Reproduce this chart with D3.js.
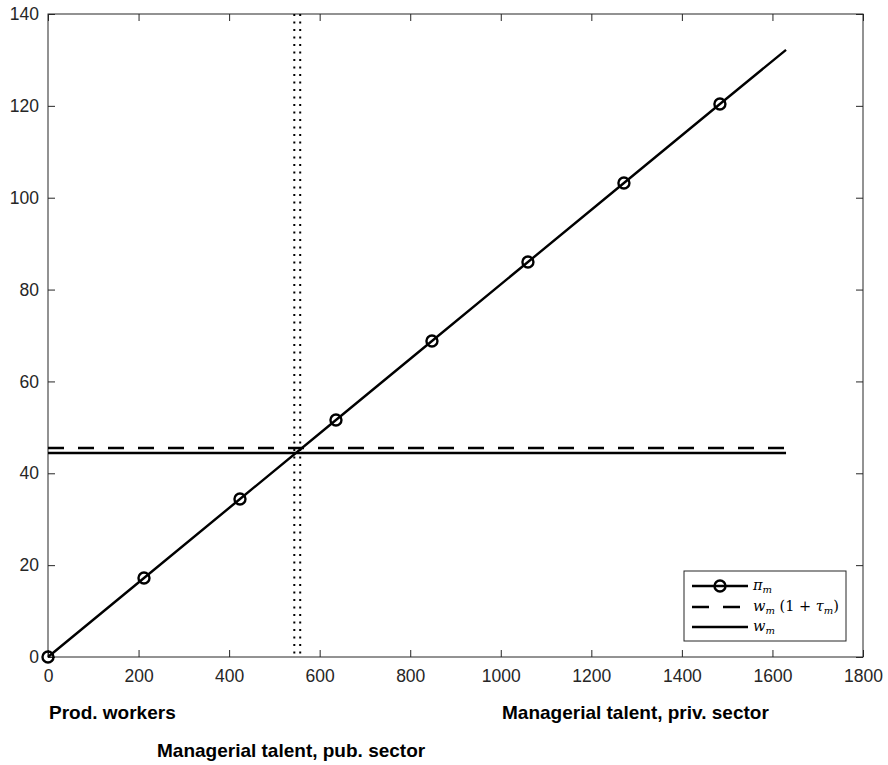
<!DOCTYPE html>
<html>
<head>
<meta charset="utf-8">
<script src="https://cdn.jsdelivr.net/npm/d3@7"></script>
<style>
  html, body { margin: 0; padding: 0; background: #fff; }
  svg { display: block; }
  .tick text { font-family: "Liberation Sans", Arial, sans-serif; font-size: 17.5px; fill: #262626; }
  .note { font-family: "Liberation Sans", Arial, sans-serif; font-size: 19px; font-weight: bold; fill: #000; }
  .leg { font-family: "DejaVu Serif", "Liberation Serif", serif; font-style: italic; font-size: 14.5px; fill: #000; }
</style>
</head>
<body>
<svg id="chart" width="888" height="765"></svg>
<script>
// Managerial talent (x) and profit of a manager (y)
const talent = [0, 212, 424, 636, 848, 1060, 1272, 1484, 1630];
const profit = [0, 17.2, 34.4, 51.6, 68.8, 86.0, 103.2, 120.4, 132.2];
const markerTalent = [0, 212, 424, 636, 848, 1060, 1272, 1484];
const markerProfit = [0, 17.2, 34.4, 51.6, 68.8, 86.0, 103.2, 120.4];

// Wage levels (gross of tax and net) over the talent range
const wageRange = [0, 1630];
const wageGross = 45.5;   // w_m (1 + tau_m)
const wageNet = 44.4;     // w_m

// Talent cut-offs where profit equals each wage level
const cutoffs = [544, 557];

const xTicks = [0, 200, 400, 600, 800, 1000, 1200, 1400, 1600, 1800];
const yTicks = [0, 20, 40, 60, 80, 100, 120, 140];

const regionLabels = ["Prod. workers", "Managerial talent, priv. sector", "Managerial talent, pub. sector"];

const svg = d3.select("#chart");
const L = 48, R = 863, T = 14, B = 657;

const x = d3.scaleLinear().domain([0, 1800]).range([L, R]);
const y = d3.scaleLinear().domain([0, 140]).range([B, T]);

const axisColor = "#262626";
const tickLen = 7;

// Box
svg.append("rect")
  .attr("x", L).attr("y", T).attr("width", R - L).attr("height", B - T)
  .attr("fill", "none").attr("stroke", axisColor).attr("stroke-width", 1);

// Axes with inward ticks
const gx = svg.append("g").attr("transform", `translate(0,${B})`)
  .call(d3.axisBottom(x).tickValues(xTicks).tickSizeInner(-tickLen).tickSizeOuter(0).tickPadding(13).tickFormat(d3.format("d")));
const gy = svg.append("g").attr("transform", `translate(${L},0)`)
  .call(d3.axisLeft(y).tickValues(yTicks).tickSizeInner(-tickLen).tickSizeOuter(0).tickPadding(9).tickFormat(d3.format("d")));
const gxt = svg.append("g").attr("transform", `translate(0,${T})`)
  .call(d3.axisTop(x).tickValues(xTicks).tickSizeInner(-tickLen).tickSizeOuter(0).tickFormat(""));
const gyr = svg.append("g").attr("transform", `translate(${R},0)`)
  .call(d3.axisRight(y).tickValues(yTicks).tickSizeInner(-tickLen).tickSizeOuter(0).tickFormat(""));
[gx, gy, gxt, gyr].forEach(g => {
  g.select(".domain").remove();
  g.selectAll(".tick line").attr("stroke", axisColor);
});

// Vertical dotted cut-off lines
svg.selectAll(".cut").data(cutoffs).enter().append("line")
  .attr("class", "cut")
  .attr("x1", d => x(d)).attr("x2", d => x(d))
  .attr("y1", T).attr("y2", B)
  .attr("stroke", "#000").attr("stroke-width", 2)
  .attr("stroke-dasharray", "2,5.5");

// Wage lines
svg.append("line")
  .attr("x1", x(wageRange[0])).attr("x2", x(wageRange[1]))
  .attr("y1", y(wageGross)).attr("y2", y(wageGross))
  .attr("stroke", "#000").attr("stroke-width", 2.5).attr("stroke-dasharray", "16,14");
svg.append("line")
  .attr("x1", x(wageRange[0])).attr("x2", x(wageRange[1]))
  .attr("y1", y(wageNet)).attr("y2", y(wageNet))
  .attr("stroke", "#000").attr("stroke-width", 2.5);

// Profit line with circle markers
const line = d3.line().x((d, i) => x(talent[i])).y(d => y(d));
svg.append("path").datum(profit)
  .attr("d", line)
  .attr("fill", "none").attr("stroke", "#000").attr("stroke-width", 2.4);
svg.selectAll(".mk").data(markerProfit).enter().append("circle")
  .attr("class", "mk")
  .attr("cx", (d, i) => x(markerTalent[i])).attr("cy", d => y(d))
  .attr("r", 5.5).attr("fill", "none").attr("stroke", "#000").attr("stroke-width", 2.4);

// Legend
const lg = svg.append("g");
lg.append("rect").attr("x", 684).attr("y", 571).attr("width", 162).attr("height", 70)
  .attr("fill", "#fff").attr("stroke", axisColor).attr("stroke-width", 1);
const rows = [586, 607, 627];
const lx1 = 692, lx2 = 748;
lg.append("line").attr("x1", lx1).attr("x2", lx2).attr("y1", rows[0]).attr("y2", rows[0])
  .attr("stroke", "#000").attr("stroke-width", 2.4);
lg.append("circle").attr("cx", (lx1 + lx2) / 2).attr("cy", rows[0]).attr("r", 5.5)
  .attr("fill", "none").attr("stroke", "#000").attr("stroke-width", 2.4);
lg.append("line").attr("x1", lx1).attr("x2", lx2).attr("y1", rows[1]).attr("y2", rows[1])
  .attr("stroke", "#000").attr("stroke-width", 2.5).attr("stroke-dasharray", "17,14");
lg.append("line").attr("x1", lx1).attr("x2", lx2).attr("y1", rows[2]).attr("y2", rows[2])
  .attr("stroke", "#000").attr("stroke-width", 2.5);

function legText(yy, parts) {
  const t = lg.append("text").attr("class", "leg").attr("x", 753).attr("y", yy + 4);
  parts.forEach(p => {
    const s = t.append("tspan").text(p.t);
    if (p.sub) s.attr("font-size", "10px").attr("dy", 3);
    if (p.up) s.attr("dy", -3);
    if (p.roman) s.attr("font-style", "normal");
  });
}
legText(rows[0], [{t: "π"}, {t: "m", sub: true}]);
legText(rows[1], [{t: "w"}, {t: "m", sub: true}, {t: " (1 + ", roman: true, up: true}, {t: "τ"}, {t: "m", sub: true}, {t: ")", roman: true, up: true}]);
legText(rows[2], [{t: "w"}, {t: "m", sub: true}]);

// Region notes below the axis
svg.append("text").attr("class", "note").attr("x", 49).attr("y", 719).text(regionLabels[0]);
svg.append("text").attr("class", "note").attr("x", 502).attr("y", 719).text(regionLabels[1]);
svg.append("text").attr("class", "note").attr("x", 157).attr("y", 757).text(regionLabels[2]);
</script>
</body>
</html>
